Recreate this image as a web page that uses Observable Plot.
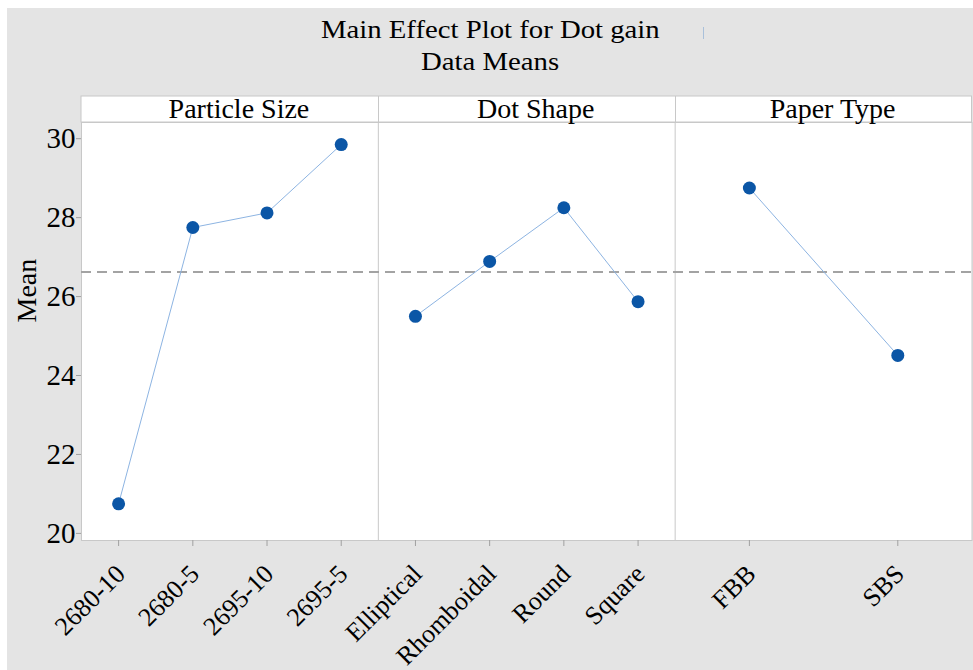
<!DOCTYPE html>
<html>
<head>
<meta charset="utf-8">
<script src="https://cdn.jsdelivr.net/npm/d3@7"></script>
<script src="https://cdn.jsdelivr.net/npm/@observablehq/plot@0.6"></script>
<style>
  html, body { margin: 0; padding: 0; background: #ffffff; }
  body { position: relative; width: 973px; height: 670px; overflow: hidden;
         font-family: "Liberation Serif", "Times New Roman", serif; }
  #bg { position: absolute; left: 7px; top: 8px; right: 0; bottom: 0; background: #e4e4e4; }
  .title { position: absolute; left: 0; width: 980px; text-align: center; font-size: 25px;
           line-height: 25px; color: #000; }
  .title span { display: inline-block; transform: scaleX(1.15); white-space: nowrap; }
  #cursor { position: absolute; left: 703px; top: 27px; width: 1px; height: 12px; background: #a9c0da; }
  #chart { position: absolute; left: 0; top: 80px; }
</style>
</head>
<body>
<div id="bg"></div>
<div class="title" style="top:16.5px"><span>Main Effect Plot for Dot gain</span></div>
<div class="title" style="top:49px"><span>Data Means</span></div>
<div id="cursor"></div>
<div id="chart"></div>
<script>
// ---- data ----
const factors = ["Particle Size", "Dot Shape", "Paper Type"];
const particleLevels = ["2680-10", "2680-5", "2695-10", "2695-5"];
const particleMeans = [20.75, 27.75, 28.12, 29.85];
const dotShapeLevels = ["Elliptical", "Rhomboidal", "Round", "Square"];
const dotShapeMeans = [25.50, 26.89, 28.25, 25.87];
const paperLevels = ["FBB", "SBS"];
const paperMeans = [28.75, 24.51];
const grandMean = 26.62;
const yTicks = [20, 22, 24, 26, 28, 30];

const levelNames = [particleLevels, dotShapeLevels, paperLevels];
const levelMeans = [particleMeans, dotShapeMeans, paperMeans];
const rows = factors.flatMap((f, k) => levelNames[k].map((lv, i) => ({
  factor: f, level: lv, pos: k + (i + 0.5) / levelNames[k].length, mean: levelMeans[k][i]
})));

const font = '"Liberation Serif", "Times New Roman", serif';
const grid = "#c8c8c8";

const headerStrip = (index, scales, values, dims) => {
  const g = d3.create("svg:g");
  const h = 26;
  const top = dims.marginTop - h;
  const left = dims.marginLeft, right = dims.width - dims.marginRight;
  g.append("rect").attr("x", left).attr("y", top).attr("width", right - left).attr("height", h)
    .attr("fill", "white").attr("stroke", grid);
  for (let k = 1; k < factors.length; k++) {
    const xx = Math.round(scales.x(k)) + 0.5;
    g.append("line").attr("x1", xx).attr("x2", xx).attr("y1", top).attr("y2", dims.marginTop)
      .attr("stroke", grid);
  }
  return g.node();
};

const chart = Plot.plot({
  width: 973,
  height: 590,
  marginTop: 42,
  marginBottom: 130,
  marginLeft: 81,
  marginRight: 1.5,
  style: { fontFamily: font, background: "transparent", overflow: "visible", color: "black" },
  x: { domain: [0, factors.length] },
  y: { domain: [19.82, 30.41] },
  marks: [
    Plot.frame({ fill: "white", stroke: grid }),
    headerStrip,
    Plot.ruleX(d3.range(1, factors.length), { stroke: grid }),
    Plot.ruleY([grandMean], { stroke: "#a3a3a3", strokeWidth: 2, strokeDasharray: "10,6" }),
    Plot.axisY({ ticks: yTicks, tickSize: 5, tickPadding: 1, fontSize: 29, stroke: "#a0a0a0", fill: "black", label: null }),
    Plot.axisX({ ticks: rows.map(d => d.pos), tickSize: 6, tickFormat: () => "", stroke: "#a0a0a0", label: null }),
    Plot.text(rows, { x: "pos", text: "level", frameAnchor: "bottom", rotate: -45, textAnchor: "end",
      lineAnchor: "bottom", dx: 8, dy: 35, fontSize: 26, fill: "black" }),
    Plot.text(factors, { x: (d, i) => i + 0.5, text: d => d, frameAnchor: "top", lineAnchor: "bottom",
      dy: -5, dx: 9, fontSize: 28, fill: "black" }),
    Plot.text(["Mean"], { text: d => d, frameAnchor: "left", rotate: -90, dx: -54, dy: -9, fontSize: 28, fill: "black" }),
    Plot.line(rows, { x: "pos", y: "mean", z: "factor", stroke: "#8db4e2", strokeWidth: 1 }),
    Plot.dot(rows, { x: "pos", y: "mean", r: 6.5, fill: "#0b56a6", stroke: "none" })
  ]
});
document.getElementById("chart").appendChild(chart);
</script>
</body>
</html>
